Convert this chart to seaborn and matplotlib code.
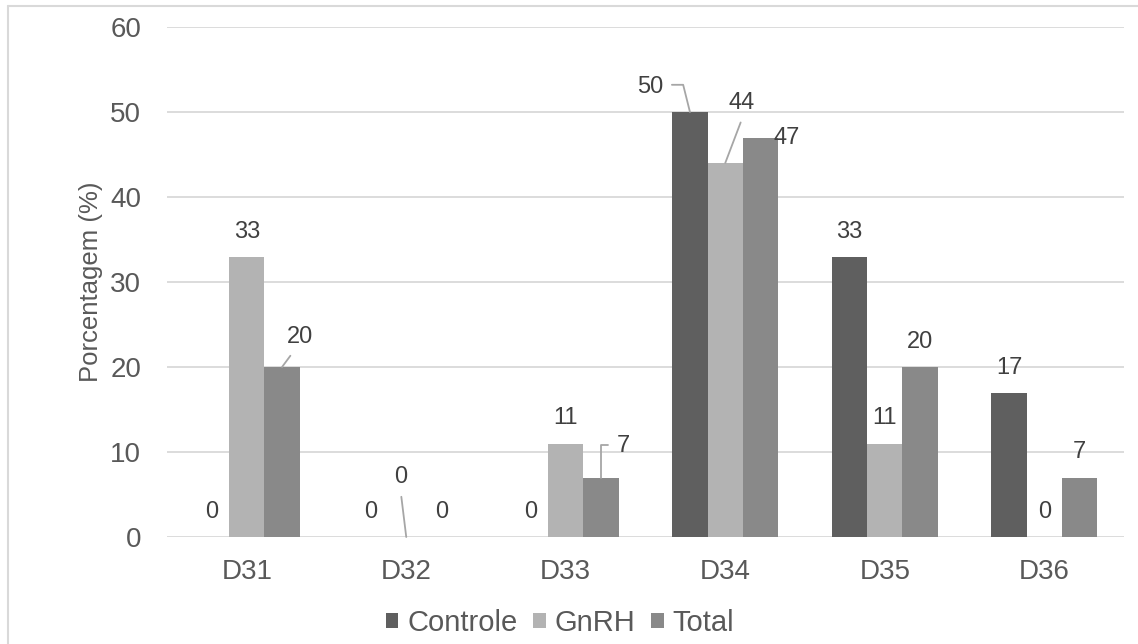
import matplotlib
matplotlib.use("Agg")
import matplotlib.pyplot as plt
from matplotlib.lines import Line2D
from matplotlib.patches import Patch
import seaborn as sns
import pandas as pd

# Data
categories = ["D31", "D32", "D33", "D34", "D35", "D36"]
groups = ["Controle", "GnRH", "Total"]
controle = [0, 0, 0, 50, 33, 17]
gnrh = [33, 0, 11, 44, 11, 0]
total = [20, 0, 7, 47, 20, 7]
y_ticks = [0, 10, 20, 30, 40, 50, 60]

colors = {"Controle": "#5f5f5f", "GnRH": "#b3b3b3", "Total": "#898989"}
text_color = "#595959"
label_color = "#404040"
grid_color = "#d9d9d9"
leader_color = "#a6a6a6"

series = {"Controle": controle, "GnRH": gnrh, "Total": total}
df = pd.DataFrame(
    [(c, g, series[g][i]) for g in groups for i, c in enumerate(categories)],
    columns=["Dia", "Grupo", "Valor"],
)

sns.set_theme(style="white")
plt.rcParams["font.family"] = ["Liberation Sans", "DejaVu Sans"]

fig = plt.figure(figsize=(11.38, 6.44), dpi=100)
ax = fig.add_axes([167 / 1138, 1 - 537 / 644, 957 / 1138, 510 / 644])

group_width = 0.664
sns.barplot(
    data=df, x="Dia", y="Valor", hue="Grupo", order=categories,
    hue_order=groups, palette=colors, width=group_width, gap=0,
    saturation=1, errorbar=None, legend=False, ax=ax, linewidth=0,
)

ax.set_ylim(0, 60)
ax.set_xlim(-0.5, len(categories) - 0.5)
ax.set_yticks(y_ticks)
ax.yaxis.grid(True, color=grid_color, linewidth=1.3)
ax.set_axisbelow(True)
for s in ax.spines.values():
    s.set_visible(False)
ax.tick_params(axis="both", length=0, labelsize=20, colors=text_color)
ax.tick_params(axis="y", pad=18.5)
ax.tick_params(axis="x", pad=16)
ax.set_xlabel("")
ax.set_ylabel("Porcentagem (%)", fontsize=18.5, color=text_color, labelpad=5)

# Data labels: default sits above the bar; some carry custom offsets (pixels)
# and a leader line back to the bar top.
bar_w = group_width / len(groups)
custom = {
    ("D31", "Total"): dict(off=(18, 30), leader="straight", relpos=(0.35, 0.0)),
    ("D32", "GnRH"): dict(off=(-6, 60), leader="straight", relpos=(0.5, 0.0)),
    ("D33", "Total"): dict(off=(22, 31), leader="elbow", relpos=(0.0, 0.55),
                           cs="angle,angleA=0,angleB=90,rad=0"),
    ("D34", "Controle"): dict(off=(-40, 25), leader="elbow", relpos=(1.0, 0.6),
                              cs="angle,angleA=0,angleB=104,rad=0"),
    ("D34", "GnRH"): dict(off=(16, 60), leader="straight", relpos=(0.6, 0.0)),
    ("D34", "Total"): dict(off=(26, 0), leader=None),
}
for gi, g in enumerate(groups):
    for ci, c in enumerate(categories):
        v = series[g][ci]
        x = ci + (gi - 1) * bar_w
        spec = custom.get((c, g))
        if spec is None:
            ax.annotate(f"{v}", xy=(x, v), xytext=(0, 25),
                        textcoords="offset pixels", ha="center", va="center",
                        fontsize=17, color=label_color)
            continue
        kw = {}
        if spec["leader"] is not None:
            kw["arrowprops"] = dict(
                arrowstyle="-", color=leader_color, lw=1.3,
                shrinkA=4, shrinkB=0, relpos=spec["relpos"],
                connectionstyle=spec.get("cs", "arc3"),
            )
        ax.annotate(f"{v}", xy=(x, v), xytext=spec["off"],
                    textcoords="offset pixels", ha="center", va="center",
                    fontsize=17, color=label_color, **kw)

handles = [Patch(facecolor=colors[g], edgecolor="none", label=g) for g in groups]
fig.legend(handles=handles, loc="center", bbox_to_anchor=(560 / 1138, 1 - 623 / 644),
           ncol=3, frameon=False, fontsize=21, labelcolor=text_color,
           handlelength=0.43, handleheight=0.43, handletextpad=0.3,
           columnspacing=0.55, borderaxespad=0)

# Chart-area border (top and left edges)
fig.add_artist(Line2D([7.5 / 1138, 7.5 / 1138], [0, 1 - 5.5 / 644],
                      transform=fig.transFigure, color=grid_color, lw=1.5))
fig.add_artist(Line2D([7.5 / 1138, 1], [1 - 5.5 / 644, 1 - 5.5 / 644],
                      transform=fig.transFigure, color=grid_color, lw=1.5))

fig.savefig("out.png", dpi=100, facecolor="white")
